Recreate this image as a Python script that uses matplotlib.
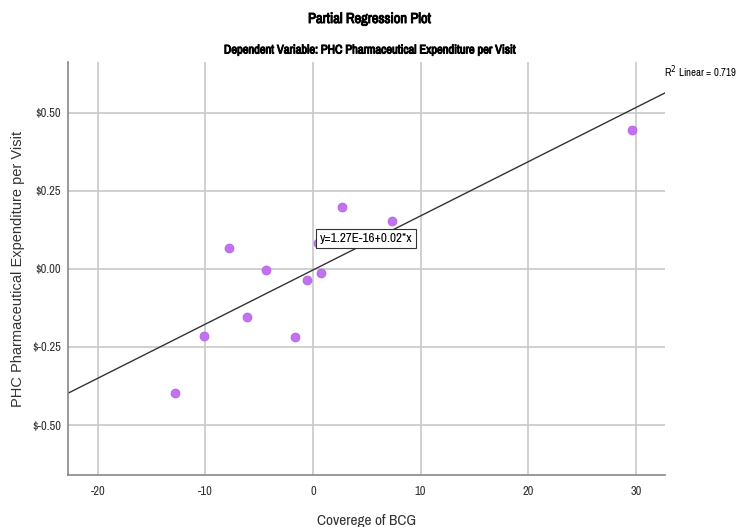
import numpy as np
import matplotlib
matplotlib.use("Agg")
import matplotlib.pyplot as plt
import matplotlib.patheffects as pe
from matplotlib import font_manager

# partial residuals
bcg = [-12.8, -10.1, -7.8, -6.1, -4.4, -1.7, -0.6, 0.5, 0.7, 2.7, 7.3, 29.6]
expenditure = [-0.397, -0.215, 0.067, -0.154, -0.003, -0.218, -0.035, 0.083, -0.013, 0.199, 0.154, 0.446]
x_ticks = [-20, -10, 0, 10, 20, 30]
y_ticks = [-0.50, -0.25, 0.0, 0.25, 0.50]
y_tick_labels = ["$-0.50", "$-0.25", "$0.00", "$0.25", "$0.50"]

# look for a narrow face (SPSS output uses Arial Narrow)
narrow = None
for f in font_manager.fontManager.ttflist:
    if "Narrow" in f.name or "Condensed" in f.name:
        narrow = f.name
        break
found = narrow is not None
if narrow is None:
    narrow = "Liberation Sans"
plain = "Liberation Sans"
nsize = 1.0 if found else 0.88
# fake bold, the narrow face has no bold weight here
bold = [pe.withStroke(linewidth=0.7, foreground="black")]

fig = plt.figure(figsize=(7.4, 5.27), dpi=100)
ax = fig.add_axes([0.0919, 0.0987, 0.8067, 0.7837])

ax.set_xlim(-22.77, 32.7)
ax.set_ylim(-0.66, 0.663)
ax.grid(True, color="#c8c8c8", lw=1.2)
ax.set_axisbelow(True)

ax.scatter(bcg, expenditure, s=42, color="#c272f0", edgecolor="#b060e6", lw=0.5, zorder=3)

slope, icpt = np.polyfit(bcg, expenditure, 1)
xs = np.array(ax.get_xlim())
ax.plot(xs, icpt + slope * xs, color="#333333", lw=1.0, zorder=2)

ax.text(0.6, 0.098, "y=1.27E-16+0.02*x", fontsize=9.5 * nsize, family=narrow,
        va="center", ha="left",
        bbox=dict(boxstyle="square,pad=0.3", fc="white", ec="#333333", lw=0.8), zorder=4)

ax.set_xticks(x_ticks)
ax.set_xticklabels([str(t) for t in x_ticks], family=narrow, fontsize=9 * nsize)
ax.set_yticks(y_ticks)
ax.set_yticklabels(y_tick_labels, family=narrow, fontsize=9 * nsize)
ax.tick_params(axis="x", length=0, pad=8, colors="#333333")
ax.tick_params(axis="y", length=0, pad=5, colors="#333333")

for s in ["top", "right"]:
    ax.spines[s].set_visible(False)
for s in ["left", "bottom"]:
    ax.spines[s].set_color("#888888")
    ax.spines[s].set_linewidth(1.2)

ax.set_xlabel("Coverege of BCG", family=narrow, fontsize=11 * nsize,
              labelpad=12, color="#333333")
ax.set_ylabel("PHC Pharmaceutical Expenditure per Visit", family=plain, fontsize=10.5,
              labelpad=5, color="#333333")

fig.text(0.5, 1 - 19 / 527, "Partial Regression Plot", ha="center", va="center",
         family=narrow, fontsize=10.5 * nsize, path_effects=bold)
fig.text(0.5, 1 - 50 / 527, "Dependent Variable: PHC Pharmaceutical Expenditure per Visit", ha="center",
         va="center", family=narrow, fontsize=9 * nsize, path_effects=bold)
fig.text(664 / 740, 1 - 72 / 527, "R$^2$ Linear = 0.719", ha="left", va="center",
         family=narrow, fontsize=7.8 * nsize)

fig.savefig("out.png", dpi=100)
